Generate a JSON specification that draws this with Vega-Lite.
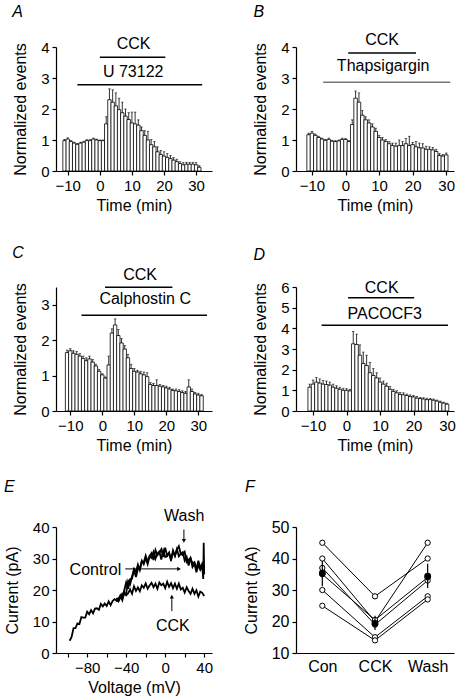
{
"$schema": "https://vega.github.io/schema/vega-lite/v6.json",
"padding": {"left": 3, "top": 4, "right": 4, "bottom": 4},
"background": "white",
"columns": 2,
"bounds": "flush",
"spacing": {"row": 116, "column": 84},
"config": {
  "font": "Liberation Sans",
  "view": {"stroke": null},
  "axis": {"grid": false, "domainColor": "black", "tickColor": "black", "labelColor": "black", "titleColor": "black", "labelFontSize": 15, "titleFontSize": 16, "titleFontWeight": "normal", "tickSize": 4, "labelPadding": 3, "domainWidth": 1.2, "tickWidth": 1.2, "labelFont": "Liberation Sans", "titleFont": "Liberation Sans"},
  "axisY": {"titlePadding": 12},
  "axisX": {"titlePadding": 4},
  "text": {"font": "Liberation Sans", "fontSize": 16, "color": "black"},
  "title": {"font": "Liberation Sans"}
},
"concat": [
{
 "width": 156, "height": 124,
 "encoding": {
  "x": {"field": "t", "type": "quantitative", "scale": {"domain": [-12.1, 33.4], "nice": false, "zero": false}, "axis": {"values": [-10,0,10,20,30], "title": "Time (min)"}},
  "y": {"field": "v", "type": "quantitative", "scale": {"domain": [0, 4], "nice": false}, "axis": {"values": [0,1,2,3,4], "title": "Normalized events"}}
 },
 "layer": [
  {"data": {"values": [{}]}, "mark": {"type": "rule", "strokeDash": [1.5, 3], "color": "black", "strokeWidth": 1}, "encoding": {"x": {"datum": -11.5}, "x2": {"datum": 32}, "y": {"datum": 1}}},
  {"data": {"values": [{"t":-11,"v":0.98,"hi":1.02},{"t":-10,"v":1.03,"hi":1.07},{"t":-9,"v":0.95,"hi":0.98},{"t":-8,"v":0.9,"hi":0.93},{"t":-7,"v":0.86,"hi":0.89},{"t":-6,"v":0.9,"hi":0.93},{"t":-5,"v":0.93,"hi":0.96},{"t":-4,"v":0.98,"hi":1.01},{"t":-3,"v":0.98,"hi":1.01},{"t":-2,"v":1.03,"hi":1.06},{"t":-1,"v":1.0,"hi":1.03},{"t":0,"v":0.98,"hi":1.0},{"t":1,"v":0.98,"hi":1.0},{"t":2,"v":1.52,"hi":1.75},{"t":3,"v":2.3,"hi":2.65},{"t":4,"v":2.22,"hi":2.62},{"t":5,"v":2.1,"hi":2.52},{"t":6,"v":1.98,"hi":2.35},{"t":7,"v":1.88,"hi":2.22},{"t":8,"v":1.77,"hi":2.0},{"t":9,"v":1.66,"hi":1.88},{"t":10,"v":1.55,"hi":1.9},{"t":11,"v":1.52,"hi":1.9},{"t":12,"v":1.48,"hi":1.65},{"t":13,"v":1.3,"hi":1.42},{"t":14,"v":1.15,"hi":1.3},{"t":15,"v":1.0,"hi":1.28},{"t":16,"v":0.85,"hi":1.02},{"t":17,"v":0.78,"hi":0.95},{"t":18,"v":0.62,"hi":0.78},{"t":19,"v":0.53,"hi":0.66},{"t":20,"v":0.48,"hi":0.62},{"t":21,"v":0.44,"hi":0.56},{"t":22,"v":0.4,"hi":0.5},{"t":23,"v":0.35,"hi":0.43},{"t":24,"v":0.3,"hi":0.38},{"t":25,"v":0.24,"hi":0.3},{"t":26,"v":0.2,"hi":0.27},{"t":27,"v":0.22,"hi":0.28},{"t":28,"v":0.22,"hi":0.28},{"t":29,"v":0.22,"hi":0.28},{"t":30,"v":0.2,"hi":0.27},{"t":31,"v":0.12,"hi":0.17}]},
   "layer": [
    {"mark": {"type": "bar", "orient": "vertical", "fill": "white", "stroke": "black", "strokeWidth": 0.8, "width": 3.4}},
    {"mark": {"type": "rule", "color": "black", "strokeWidth": 0.8}, "encoding": {"y2": {"field": "hi"}}},
    {"mark": {"type": "tick", "orient": "horizontal", "color": "black", "size": 2.5, "thickness": 0.8}, "encoding": {"y": {"field": "hi", "type": "quantitative", "title": "Normalized events"}}}
   ]},
  {"data": {"values": [{"t":0,"t2":20.4,"v":3.67},{"t":-7.0,"t2":31.9,"v":2.78}]}, "mark": {"type": "rule", "color": "black", "strokeWidth": 1.5}, "encoding": {"x2": {"field": "t2"}}},
  {"data": {"values": [{"t":10.5,"v":4.11,"label":"CCK"},{"t":10.4,"v":3.19,"label":"U 73122"}]}, "mark": {"type": "text", "align": "center", "baseline": "middle", "fontSize": 16}, "encoding": {"text": {"field": "label"}}},
  {"data": {"values": [{"t":-27.3,"v":5.12,"label":"A"}]}, "mark": {"type": "text", "align": "left", "baseline": "middle", "fontSize": 16, "fontStyle": "italic"}, "encoding": {"text": {"field": "label"}}}
 ]
},
{
 "width": 158, "height": 124,
 "encoding": {
  "x": {"field": "t", "type": "quantitative", "scale": {"domain": [-13.27, 30.83], "nice": false, "zero": false}, "axis": {"values": [-10,0,10,20,30], "title": "Time (min)"}},
  "y": {"field": "v", "type": "quantitative", "scale": {"domain": [0, 4], "nice": false}, "axis": {"values": [0,1,2,3,4], "title": "Normalized events"}}
 },
 "layer": [
  {"data": {"values": [{}]}, "mark": {"type": "rule", "strokeDash": [1.5, 3], "color": "black", "strokeWidth": 1}, "encoding": {"x": {"datum": -11.5}, "x2": {"datum": 30.5}, "y": {"datum": 1}}},
  {"data": {"values": [{"t":-11,"v":1.17,"hi":1.22},{"t":-10,"v":1.22,"hi":1.28},{"t":-9,"v":1.15,"hi":1.19},{"t":-8,"v":1.08,"hi":1.12},{"t":-7,"v":1.03,"hi":1.06},{"t":-6,"v":0.99,"hi":1.02},{"t":-5,"v":1.02,"hi":1.06},{"t":-4,"v":0.96,"hi":0.99},{"t":-3,"v":0.95,"hi":0.98},{"t":-2,"v":0.97,"hi":1.0},{"t":-1,"v":1.02,"hi":1.06},{"t":0,"v":1.02,"hi":1.05},{"t":1,"v":0.95,"hi":0.98},{"t":2,"v":1.5,"hi":1.65},{"t":3,"v":2.35,"hi":2.58},{"t":4,"v":2.22,"hi":2.52},{"t":5,"v":1.8,"hi":1.95},{"t":6,"v":1.65,"hi":1.75},{"t":7,"v":1.55,"hi":1.65},{"t":8,"v":1.42,"hi":1.52},{"t":9,"v":1.28,"hi":1.38},{"t":10,"v":1.08,"hi":1.15},{"t":11,"v":1.0,"hi":1.08},{"t":12,"v":0.95,"hi":1.02},{"t":13,"v":0.88,"hi":0.95},{"t":14,"v":0.82,"hi":0.9},{"t":15,"v":0.8,"hi":0.9},{"t":16,"v":0.82,"hi":1.0},{"t":17,"v":0.82,"hi":0.95},{"t":18,"v":0.88,"hi":1.05},{"t":19,"v":0.82,"hi":1.12},{"t":20,"v":0.85,"hi":0.92},{"t":21,"v":0.78,"hi":0.95},{"t":22,"v":0.75,"hi":0.9},{"t":23,"v":0.74,"hi":0.88},{"t":24,"v":0.7,"hi":0.8},{"t":25,"v":0.7,"hi":0.78},{"t":26,"v":0.68,"hi":0.76},{"t":27,"v":0.63,"hi":0.7},{"t":28,"v":0.5,"hi":0.56},{"t":29,"v":0.48,"hi":0.53},{"t":30,"v":0.52,"hi":0.58}]},
   "layer": [
    {"mark": {"type": "bar", "orient": "vertical", "fill": "white", "stroke": "black", "strokeWidth": 0.8, "width": 3.55}},
    {"mark": {"type": "rule", "color": "black", "strokeWidth": 0.8}, "encoding": {"y2": {"field": "hi"}}},
    {"mark": {"type": "tick", "orient": "horizontal", "color": "black", "size": 2.5, "thickness": 0.8}, "encoding": {"y": {"field": "hi", "type": "quantitative", "title": "Normalized events"}}}
   ]},
  {"data": {"values": [{"t":0.8,"t2":21.0,"v":3.81,"g":"CCK"},{"t":-6.66,"t2":31.2,"v":2.86,"g":"Thapsigargin"}]}, "mark": {"type": "rule", "strokeWidth": 1.5}, "encoding": {"x2": {"field": "t2"}, "color": {"field": "g", "type": "nominal", "scale": {"domain": ["CCK","Thapsigargin"], "range": ["black","#777777"]}, "legend": null}}},
  {"data": {"values": [{"t":10.9,"v":4.21,"label":"CCK"},{"t":11.2,"v":3.4,"label":"Thapsigargin"}]}, "mark": {"type": "text", "align": "center", "baseline": "middle", "fontSize": 16}, "encoding": {"text": {"field": "label"}}},
  {"data": {"values": [{"t":-27.4,"v":5.12,"label":"B"}]}, "mark": {"type": "text", "align": "left", "baseline": "middle", "fontSize": 16, "fontStyle": "italic"}, "encoding": {"text": {"field": "label"}}}
 ]
},
{
 "width": 156, "height": 124,
 "encoding": {
  "x": {"field": "t", "type": "quantitative", "scale": {"domain": [-12.9, 32.7], "nice": false, "zero": false}, "axis": {"values": [-10,0,10,20,30], "title": "Time (min)"}},
  "y": {"field": "v", "type": "quantitative", "scale": {"domain": [0, 3.5], "nice": false}, "axis": {"values": [0,1,2,3], "title": "Normalized events"}}
 },
 "layer": [
  {"data": {"values": [{}]}, "mark": {"type": "rule", "strokeDash": [1.5, 3], "color": "black", "strokeWidth": 1}, "encoding": {"x": {"datum": -11.5}, "x2": {"datum": 31.5}, "y": {"datum": 1}}},
  {"data": {"values": [{"t":-11,"v":1.65,"hi":1.72},{"t":-10,"v":1.7,"hi":1.76},{"t":-9,"v":1.63,"hi":1.7},{"t":-8,"v":1.6,"hi":1.68},{"t":-7,"v":1.55,"hi":1.62},{"t":-6,"v":1.48,"hi":1.55},{"t":-5,"v":1.42,"hi":1.5},{"t":-4,"v":1.47,"hi":1.55},{"t":-3,"v":1.38,"hi":1.45},{"t":-2,"v":1.27,"hi":1.32},{"t":-1,"v":1.12,"hi":1.17},{"t":0,"v":1.02,"hi":1.05},{"t":1,"v":0.93,"hi":0.96},{"t":2,"v":1.3,"hi":1.55},{"t":3,"v":2.2,"hi":2.32},{"t":4,"v":2.43,"hi":2.6},{"t":5,"v":2.13,"hi":2.3},{"t":6,"v":1.92,"hi":2.05},{"t":7,"v":1.75,"hi":1.85},{"t":8,"v":1.5,"hi":1.6},{"t":9,"v":1.2,"hi":1.32},{"t":10,"v":1.12,"hi":1.2},{"t":11,"v":1.1,"hi":1.15},{"t":12,"v":1.05,"hi":1.12},{"t":13,"v":1.02,"hi":1.1},{"t":14,"v":0.97,"hi":1.08},{"t":15,"v":0.75,"hi":0.8},{"t":16,"v":0.72,"hi":0.78},{"t":17,"v":0.72,"hi":0.88},{"t":18,"v":0.7,"hi":0.75},{"t":19,"v":0.68,"hi":0.72},{"t":20,"v":0.65,"hi":0.7},{"t":21,"v":0.62,"hi":0.67},{"t":22,"v":0.58,"hi":0.62},{"t":23,"v":0.57,"hi":0.62},{"t":24,"v":0.55,"hi":0.6},{"t":25,"v":0.52,"hi":0.57},{"t":26,"v":0.5,"hi":0.55},{"t":27,"v":0.68,"hi":0.88},{"t":28,"v":0.55,"hi":0.62},{"t":29,"v":0.48,"hi":0.52},{"t":30,"v":0.45,"hi":0.5},{"t":31,"v":0.43,"hi":0.47}]},
   "layer": [
    {"mark": {"type": "bar", "orient": "vertical", "fill": "white", "stroke": "black", "strokeWidth": 0.8, "width": 3.4}},
    {"mark": {"type": "rule", "color": "black", "strokeWidth": 0.8}, "encoding": {"y2": {"field": "hi"}}},
    {"mark": {"type": "tick", "orient": "horizontal", "color": "black", "size": 2.5, "thickness": 0.8}, "encoding": {"y": {"field": "hi", "type": "quantitative", "title": "Normalized events"}}}
   ]},
  {"data": {"values": [{"t":0.85,"t2":21.9,"v":3.49},{"t":-6.5,"t2":32.7,"v":2.7}]}, "mark": {"type": "rule", "color": "black", "strokeWidth": 1.5}, "encoding": {"x2": {"field": "t2"}}},
  {"data": {"values": [{"t":11.8,"v":3.85,"label":"CCK"},{"t":13.4,"v":3.15,"label":"Calphostin C"}]}, "mark": {"type": "text", "align": "center", "baseline": "middle", "fontSize": 16}, "encoding": {"text": {"field": "label"}}},
  {"data": {"values": [{"t":-28.1,"v":4.47,"label":"C"}]}, "mark": {"type": "text", "align": "left", "baseline": "middle", "fontSize": 16, "fontStyle": "italic"}, "encoding": {"text": {"field": "label"}}}
 ]
},
{
 "width": 158, "height": 124,
 "encoding": {
  "x": {"field": "t", "type": "quantitative", "scale": {"domain": [-13.6, 30.6], "nice": false, "zero": false}, "axis": {"values": [-10,0,10,20,30], "title": "Time (min)"}},
  "y": {"field": "v", "type": "quantitative", "scale": {"domain": [0, 6], "nice": false}, "axis": {"values": [0,1,2,3,4,5,6], "title": "Normalized events"}}
 },
 "layer": [
  {"data": {"values": [{}]}, "mark": {"type": "rule", "strokeDash": [1.5, 3], "color": "black", "strokeWidth": 1}, "encoding": {"x": {"datum": -11.5}, "x2": {"datum": 30.5}, "y": {"datum": 1}}},
  {"data": {"values": [{"t":-11,"v":1.15,"hi":1.3},{"t":-10,"v":1.3,"hi":1.5},{"t":-9,"v":1.4,"hi":1.62},{"t":-8,"v":1.35,"hi":1.55},{"t":-7,"v":1.3,"hi":1.48},{"t":-6,"v":1.28,"hi":1.45},{"t":-5,"v":1.25,"hi":1.4},{"t":-4,"v":1.15,"hi":1.3},{"t":-3,"v":1.1,"hi":1.22},{"t":-2,"v":1.05,"hi":1.15},{"t":-1,"v":1.0,"hi":1.1},{"t":0,"v":1.0,"hi":1.08},{"t":1,"v":0.97,"hi":1.05},{"t":2,"v":3.25,"hi":3.85},{"t":3,"v":3.22,"hi":3.72},{"t":4,"v":2.7,"hi":3.2},{"t":5,"v":2.3,"hi":2.85},{"t":6,"v":2.2,"hi":2.7},{"t":7,"v":1.85,"hi":2.35},{"t":8,"v":1.72,"hi":2.05},{"t":9,"v":1.6,"hi":1.85},{"t":10,"v":1.4,"hi":1.6},{"t":11,"v":1.3,"hi":1.45},{"t":12,"v":1.2,"hi":1.35},{"t":13,"v":1.05,"hi":1.18},{"t":14,"v":0.95,"hi":1.05},{"t":15,"v":0.88,"hi":0.98},{"t":16,"v":0.8,"hi":0.9},{"t":17,"v":0.78,"hi":0.88},{"t":18,"v":0.75,"hi":0.82},{"t":19,"v":0.7,"hi":0.78},{"t":20,"v":0.68,"hi":0.75},{"t":21,"v":0.62,"hi":0.7},{"t":22,"v":0.6,"hi":0.66},{"t":23,"v":0.58,"hi":0.64},{"t":24,"v":0.55,"hi":0.62},{"t":25,"v":0.55,"hi":0.6},{"t":26,"v":0.52,"hi":0.58},{"t":27,"v":0.48,"hi":0.53},{"t":28,"v":0.42,"hi":0.48},{"t":29,"v":0.38,"hi":0.43},{"t":30,"v":0.33,"hi":0.38}]},
   "layer": [
    {"mark": {"type": "bar", "orient": "vertical", "fill": "white", "stroke": "black", "strokeWidth": 0.8, "width": 3.55}},
    {"mark": {"type": "rule", "color": "black", "strokeWidth": 0.8}, "encoding": {"y2": {"field": "hi"}}},
    {"mark": {"type": "tick", "orient": "horizontal", "color": "black", "size": 2.5, "thickness": 0.8}, "encoding": {"y": {"field": "hi", "type": "quantitative", "title": "Normalized events"}}}
   ]},
  {"data": {"values": [{"t":0.47,"t2":20.2,"v":5.48},{"t":-7.45,"t2":30.3,"v":4.15}]}, "mark": {"type": "rule", "color": "black", "strokeWidth": 1.5}, "encoding": {"x2": {"field": "t2"}}},
  {"data": {"values": [{"t":10.5,"v":5.93,"label":"CCK"},{"t":11.4,"v":4.67,"label":"PACOCF3"}]}, "mark": {"type": "text", "align": "center", "baseline": "middle", "fontSize": 16}, "encoding": {"text": {"field": "label"}}},
  {"data": {"values": [{"t":-27.8,"v":7.57,"label":"D"}]}, "mark": {"type": "text", "align": "left", "baseline": "middle", "fontSize": 16, "fontStyle": "italic"}, "encoding": {"text": {"field": "label"}}}
 ]
},
{
 "width": 156, "height": 126,
 "encoding": {
  "x": {"field": "mv", "type": "quantitative", "scale": {"domain": [-112, 48], "nice": false, "zero": false}, "axis": {"values": [-100,-80,-60,-40,-20,0,20,40], "labelExpr": "datum.value % 40 === 0 ? datum.label : ''", "title": "Voltage (mV)"}},
  "y": {"field": "pa", "type": "quantitative", "scale": {"domain": [0, 40], "nice": false}, "axis": {"values": [0,10,20,30,40], "title": "Current (pA)"}}
 },
 "layer": [
  {"data": {"values": [
{"tr":"Control","mv":-98,"pa":3.9},{"tr":"Control","mv":-96,"pa":5.1},{"tr":"Control","mv":-94,"pa":7.9},{"tr":"Control","mv":-92,"pa":7.9},{"tr":"Control","mv":-90,"pa":9.4},{"tr":"Control","mv":-88,"pa":9.2},{"tr":"Control","mv":-86,"pa":11.4},{"tr":"Control","mv":-84,"pa":11.2},{"tr":"Control","mv":-82,"pa":11.2},{"tr":"Control","mv":-80,"pa":13.1},{"tr":"Control","mv":-78,"pa":12.3},{"tr":"Control","mv":-76,"pa":13.6},{"tr":"Control","mv":-74,"pa":12.6},{"tr":"Control","mv":-72,"pa":14.1},{"tr":"Control","mv":-70,"pa":14.2},{"tr":"Control","mv":-68,"pa":13.7},{"tr":"Control","mv":-66,"pa":15.6},{"tr":"Control","mv":-64,"pa":14.8},{"tr":"Control","mv":-62,"pa":15.7},{"tr":"Control","mv":-60,"pa":14.9},{"tr":"Control","mv":-58,"pa":16.4},{"tr":"Control","mv":-56,"pa":15.2},{"tr":"Control","mv":-54,"pa":16.5},{"tr":"Control","mv":-52,"pa":17.1},{"tr":"Control","mv":-50,"pa":16.6},{"tr":"Control","mv":-48,"pa":16.5},{"tr":"Control","mv":-46,"pa":18.3},{"tr":"Control","mv":-44,"pa":17.3},{"tr":"Control","mv":-42,"pa":19.9},{"tr":"Control","mv":-40,"pa":22.4},{"tr":"Control","mv":-38,"pa":20.4},{"tr":"Control","mv":-36,"pa":23.4},{"tr":"Control","mv":-34,"pa":23.6},{"tr":"Control","mv":-32,"pa":26.6},{"tr":"Control","mv":-30,"pa":25.8},{"tr":"Control","mv":-28,"pa":28.1},{"tr":"Control","mv":-26,"pa":26.3},{"tr":"Control","mv":-24,"pa":29.1},{"tr":"Control","mv":-22,"pa":28.8},{"tr":"Control","mv":-20,"pa":30.9},{"tr":"Control","mv":-18,"pa":28.9},{"tr":"Control","mv":-16,"pa":30.8},{"tr":"Control","mv":-14,"pa":31.7},{"tr":"Control","mv":-12,"pa":29.5},{"tr":"Control","mv":-10,"pa":32.7},{"tr":"Control","mv":-8,"pa":31.1},{"tr":"Control","mv":-6,"pa":31.7},{"tr":"Control","mv":-4,"pa":32.9},{"tr":"Control","mv":-2,"pa":30.5},{"tr":"Control","mv":0,"pa":33.4},{"tr":"Control","mv":2,"pa":30.9},{"tr":"Control","mv":4,"pa":31.9},{"tr":"Control","mv":6,"pa":29.8},{"tr":"Control","mv":8,"pa":32.0},{"tr":"Control","mv":10,"pa":30.8},{"tr":"Control","mv":12,"pa":33.0},{"tr":"Control","mv":14,"pa":30.7},{"tr":"Control","mv":16,"pa":31.5},{"tr":"Control","mv":18,"pa":32.0},{"tr":"Control","mv":20,"pa":29.3},{"tr":"Control","mv":22,"pa":30.5},{"tr":"Control","mv":24,"pa":27.8},{"tr":"Control","mv":26,"pa":30.1},{"tr":"Control","mv":28,"pa":28.4},{"tr":"Control","mv":30,"pa":28.8},{"tr":"Control","mv":32,"pa":26.7},{"tr":"Control","mv":34,"pa":29.3},{"tr":"Control","mv":36,"pa":27.0},{"tr":"Control","mv":38,"pa":28.4},{"tr":"Control","mv":40,"pa":26.5},
{"tr":"Wash","mv":-50,"pa":17.5},{"tr":"Wash","mv":-48,"pa":16.4},{"tr":"Wash","mv":-46,"pa":17.7},{"tr":"Wash","mv":-44,"pa":18.9},{"tr":"Wash","mv":-42,"pa":18.5},{"tr":"Wash","mv":-40,"pa":19.0},{"tr":"Wash","mv":-38,"pa":22.9},{"tr":"Wash","mv":-36,"pa":21.8},{"tr":"Wash","mv":-34,"pa":24.3},{"tr":"Wash","mv":-32,"pa":26.4},{"tr":"Wash","mv":-30,"pa":24.1},{"tr":"Wash","mv":-28,"pa":26.7},{"tr":"Wash","mv":-26,"pa":26.6},{"tr":"Wash","mv":-24,"pa":29.3},{"tr":"Wash","mv":-22,"pa":28.2},{"tr":"Wash","mv":-20,"pa":30.2},{"tr":"Wash","mv":-18,"pa":28.2},{"tr":"Wash","mv":-16,"pa":30.7},{"tr":"Wash","mv":-14,"pa":30.2},{"tr":"Wash","mv":-12,"pa":32.1},{"tr":"Wash","mv":-10,"pa":29.9},{"tr":"Wash","mv":-8,"pa":31.6},{"tr":"Wash","mv":-6,"pa":32.2},{"tr":"Wash","mv":-4,"pa":29.7},{"tr":"Wash","mv":-2,"pa":32.5},{"tr":"Wash","mv":0,"pa":30.5},{"tr":"Wash","mv":2,"pa":30.8},{"tr":"Wash","mv":4,"pa":31.7},{"tr":"Wash","mv":6,"pa":29.3},{"tr":"Wash","mv":8,"pa":32.6},{"tr":"Wash","mv":10,"pa":30.9},{"tr":"Wash","mv":12,"pa":32.8},{"tr":"Wash","mv":14,"pa":33.9},{"tr":"Wash","mv":16,"pa":31.4},{"tr":"Wash","mv":18,"pa":31.1},{"tr":"Wash","mv":20,"pa":32.1},{"tr":"Wash","mv":22,"pa":28.9},{"tr":"Wash","mv":24,"pa":29.6},{"tr":"Wash","mv":26,"pa":30.1},{"tr":"Wash","mv":28,"pa":27.3},{"tr":"Wash","mv":30,"pa":28.4},{"tr":"Wash","mv":32,"pa":25.6},{"tr":"Wash","mv":34,"pa":27.9},{"tr":"Wash","mv":36,"pa":26.4},{"tr":"Wash","mv":38,"pa":27.5},{"tr":"Wash","mv":39,"pa":23.5},{"tr":"Wash","mv":39.5,"pa":35.0},{"tr":"Wash","mv":40,"pa":25.0},
{"tr":"CCK","mv":-50,"pa":16.3},{"tr":"CCK","mv":-48,"pa":17.4},{"tr":"CCK","mv":-46,"pa":18.0},{"tr":"CCK","mv":-44,"pa":16.7},{"tr":"CCK","mv":-42,"pa":19.2},{"tr":"CCK","mv":-40,"pa":18.3},{"tr":"CCK","mv":-38,"pa":19.0},{"tr":"CCK","mv":-36,"pa":20.2},{"tr":"CCK","mv":-34,"pa":18.8},{"tr":"CCK","mv":-32,"pa":21.2},{"tr":"CCK","mv":-30,"pa":19.7},{"tr":"CCK","mv":-28,"pa":20.8},{"tr":"CCK","mv":-26,"pa":19.6},{"tr":"CCK","mv":-24,"pa":21.5},{"tr":"CCK","mv":-22,"pa":20.7},{"tr":"CCK","mv":-20,"pa":22.1},{"tr":"CCK","mv":-18,"pa":20.4},{"tr":"CCK","mv":-16,"pa":21.4},{"tr":"CCK","mv":-14,"pa":22.3},{"tr":"CCK","mv":-12,"pa":20.9},{"tr":"CCK","mv":-10,"pa":22.0},{"tr":"CCK","mv":-8,"pa":20.4},{"tr":"CCK","mv":-6,"pa":22.4},{"tr":"CCK","mv":-4,"pa":21.5},{"tr":"CCK","mv":-2,"pa":22.0},{"tr":"CCK","mv":0,"pa":20.6},{"tr":"CCK","mv":2,"pa":22.6},{"tr":"CCK","mv":4,"pa":21.0},{"tr":"CCK","mv":6,"pa":22.2},{"tr":"CCK","mv":8,"pa":20.6},{"tr":"CCK","mv":10,"pa":22.0},{"tr":"CCK","mv":12,"pa":20.4},{"tr":"CCK","mv":14,"pa":22.0},{"tr":"CCK","mv":16,"pa":20.2},{"tr":"CCK","mv":18,"pa":20.7},{"tr":"CCK","mv":20,"pa":19.2},{"tr":"CCK","mv":22,"pa":20.9},{"tr":"CCK","mv":24,"pa":19.7},{"tr":"CCK","mv":26,"pa":18.8},{"tr":"CCK","mv":28,"pa":20.4},{"tr":"CCK","mv":30,"pa":18.8},{"tr":"CCK","mv":32,"pa":19.9},{"tr":"CCK","mv":34,"pa":17.9},{"tr":"CCK","mv":36,"pa":19.5},{"tr":"CCK","mv":38,"pa":19.1},{"tr":"CCK","mv":40,"pa":18.1}
  ]}, "mark": {"type": "line", "color": "black", "strokeWidth": 1.8}, "encoding": {"detail": {"field": "tr"}}},
  {"data": {"values": [{"mv":19.2,"mv2":19.2,"pa":39.2,"pa2":36.0},{"mv":-41,"mv2":13.5,"pa":26.7,"pa2":26.7},{"mv":6.8,"mv2":6.8,"pa":13.3,"pa2":17.4}]}, "mark": {"type": "rule", "color": "black", "strokeWidth": 1}, "encoding": {"x2": {"field": "mv2"}, "y2": {"field": "pa2"}}},
  {"data": {"values": [{"mv":19.2,"pa":35.6,"dir":"down"},{"mv":14.2,"pa":26.7,"dir":"right"},{"mv":6.8,"pa":17.9,"dir":"up"}]}, "mark": {"type": "point", "filled": true, "color": "black", "size": 18, "opacity": 1}, "encoding": {"shape": {"field": "dir", "type": "nominal", "scale": {"domain": ["down","right","up"], "range": ["triangle-down","triangle-right","triangle-up"]}, "legend": null}}},
  {"data": {"values": [{"mv":19.5,"pa":43.6,"label":"Wash"},{"mv":-71.6,"pa":26.5,"label":"Control"},{"mv":7.9,"pa":8.5,"label":"CCK"}]}, "mark": {"type": "text", "align": "center", "baseline": "middle", "fontSize": 16}, "encoding": {"text": {"field": "label"}}},
  {"data": {"values": [{"mv":-165.4,"pa":52.7,"label":"E"}]}, "mark": {"type": "text", "align": "left", "baseline": "middle", "fontSize": 16, "fontStyle": "italic"}, "encoding": {"text": {"field": "label"}}}
 ]
},
{
 "width": 158, "height": 126,
 "title": {"text": "F", "anchor": "start", "frame": "group", "fontStyle": "italic", "fontWeight": "normal", "fontSize": 16, "color": "black", "dx": -51, "offset": 24},
 "encoding": {
  "x": {"field": "cond", "type": "ordinal", "sort": ["Con","CCK","Wash"], "scale": {"type": "point", "padding": 0.5}, "axis": {"title": null, "labelAngle": 0, "ticks": false, "labelPadding": 5, "labelFontSize": 16}},
  "y": {"field": "val", "type": "quantitative", "scale": {"domain": [10, 50], "nice": false, "zero": false}, "axis": {"values": [10,20,30,40,50], "title": "Current (pA)", "labelFontSize": 16}}
 },
 "layer": [
  {"data": {"values": [
{"cell":"c1","cond":"Con","val":45},{"cell":"c1","cond":"CCK","val":28},{"cell":"c1","cond":"Wash","val":40},
{"cell":"c2","cond":"Con","val":40},{"cell":"c2","cond":"CCK","val":20},{"cell":"c2","cond":"Wash","val":45},
{"cell":"c3","cond":"Con","val":37},{"cell":"c3","cond":"CCK","val":19},{"cell":"c3","cond":"Wash","val":33},
{"cell":"c4","cond":"Con","val":35},{"cell":"c4","cond":"CCK","val":20.5},{"cell":"c4","cond":"Wash","val":34},
{"cell":"c5","cond":"Con","val":30},{"cell":"c5","cond":"CCK","val":15},{"cell":"c5","cond":"Wash","val":28},
{"cell":"c6","cond":"Con","val":25},{"cell":"c6","cond":"CCK","val":14},{"cell":"c6","cond":"Wash","val":27}
   ]},
   "layer": [
    {"mark": {"type": "line", "color": "black", "strokeWidth": 1}, "encoding": {"detail": {"field": "cell"}}},
    {"mark": {"type": "circle", "fill": "white", "stroke": "black", "strokeWidth": 1, "size": 28, "opacity": 1}}
   ]},
  {"data": {"values": [{"cond":"Con","val":35.3,"lo":31.2,"hi":39.2},{"cond":"CCK","val":19.4,"lo":17.3,"hi":21.8},{"cond":"Wash","val":34.4,"lo":30.6,"hi":38.3}]},
   "layer": [
    {"mark": {"type": "rule", "color": "black", "strokeWidth": 1.2}, "encoding": {"y": {"field": "lo", "type": "quantitative", "title": "Current (pA)"}, "y2": {"field": "hi"}}},
    {"mark": {"type": "circle", "fill": "black", "size": 48, "opacity": 1}}
   ]}
 ]
}
]
}
